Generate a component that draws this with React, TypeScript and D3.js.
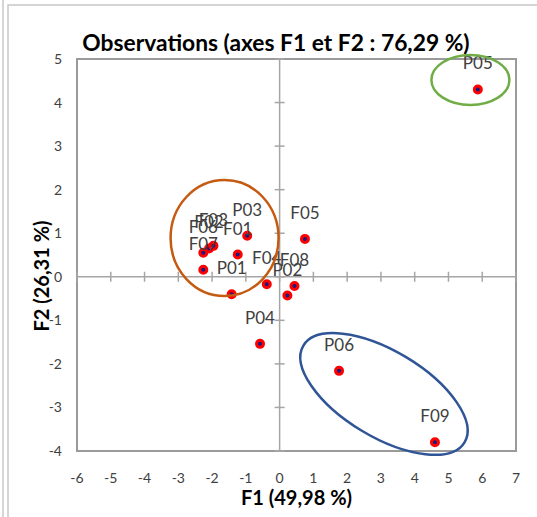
import * as d3 from "d3";

const labels = ["P01", "P02", "P03", "P04", "P05", "P06", "F01", "F02", "F03", "F04", "F05", "F06", "F07", "F08", "F09"];
const f1 = [-1.42, 0.23, -0.96, -0.58, 5.87, 1.76, -1.24, -2.09, -1.96, -0.38, 0.75, -2.26, -2.26, 0.44, 4.6];
const f2 = [-0.4, -0.43, 0.94, -1.54, 4.3, -2.16, 0.51, 0.65, 0.71, -0.17, 0.87, 0.55, 0.16, -0.21, -3.8];

const xTicks = d3.range(-6, 8);
const yTicks = d3.range(-4, 6);

// hand-drawn group outlines (centre in data units, radii in px)
const groups = [
  { cx: -1.63, cy: 0.89, rx: 54, ry: 58, angle: 0, color: "#C55A11" },
  { cx: 5.65, cy: 4.52, rx: 39, ry: 25, angle: 0, color: "#70AD47" },
  { cx: 3.09, cy: -2.69, rx: 94, ry: 43, angle: 31, color: "#2F5597" },
];

const W = 537;
const H = 517;
const margin = { top: 59, right: 21, bottom: 66, left: 77 };
const font = "Lato, 'Open Sans', sans-serif";

export default function App() {
  const x = d3.scaleLinear().domain([-6, 7]).range([margin.left, W - margin.right]);
  const y = d3.scaleLinear().domain([-4, 5]).range([H - margin.bottom, margin.top]);
  const x0 = x(0);
  const y0 = y(0);

  return (
    <svg width={W} height={H} style={{ position: "absolute", left: 0, top: 0, background: "#fff" }} fontFamily={font}>
      {/* outer frames */}
      <line x1={3} x2={3} y1={0} y2={H} stroke="#c8c8c8" strokeWidth={1.5} />
      <rect x={8} y={5} width={W} height={H} fill="none" stroke="#c8c8c8" strokeWidth={1.5} />

      <text x={276} y={51} textAnchor="middle" fontSize={22.8} fontWeight="bold" fill="#000">
        Observations (axes F1 et F2 : 76,29 %)
      </text>

      {/* plot frame */}
      <rect
        x={x(-6)}
        y={y(5)}
        width={x(7) - x(-6)}
        height={y(-4) - y(5)}
        fill="none"
        stroke="#9a9a9a"
        strokeWidth={2}
      />

      {/* zero axes with crossing ticks */}
      <line x1={x(-6)} x2={x(7)} y1={y0} y2={y0} stroke="#a6a6a6" strokeWidth={1.5} />
      <line x1={x0} x2={x0} y1={y(5)} y2={y(-4)} stroke="#a6a6a6" strokeWidth={1.5} />
      {xTicks.map((t) => (
        <line key={"xt" + t} x1={x(t)} x2={x(t)} y1={y0 - 5} y2={y0 + 5} stroke="#a6a6a6" strokeWidth={1.5} />
      ))}
      {yTicks.map((t) => (
        <line key={"yt" + t} x1={x0 - 5} x2={x0 + 5} y1={y(t)} y2={y(t)} stroke="#a6a6a6" strokeWidth={1.5} />
      ))}

      {/* tick labels */}
      {xTicks.map((t) => (
        <text key={"xl" + t} x={x(t)} y={483} textAnchor="middle" fontSize={14} fill="#404040">
          {t}
        </text>
      ))}
      {yTicks.map((t) => (
        <text key={"yl" + t} x={62} y={y(t) + 5} textAnchor="end" fontSize={14} fill="#404040">
          {t}
        </text>
      ))}

      {/* axis titles */}
      <text x={(x(-6) + x(7)) / 2} y={505} textAnchor="middle" fontSize={20} fontWeight="bold" fill="#000">
        F1 (49,98 %)
      </text>
      <text
        transform={`translate(49,${276}) rotate(-90)`}
        textAnchor="middle"
        fontSize={20}
        fontWeight="bold"
        fill="#000"
      >
        F2 (26,31 %)
      </text>

      {/* points */}
      {labels.map((l, i) => (
        <circle key={"p" + l} cx={x(f1[i])} cy={y(f2[i])} r={3.5} fill="#1a1a80" stroke="#ff0000" strokeWidth={3} />
      ))}
      {labels.map((l, i) => (
        <text key={"l" + l} x={x(f1[i])} y={y(f2[i]) - 20} textAnchor="middle" fontSize={17} fill="#404040">
          {l}
        </text>
      ))}

      {/* group outlines */}
      {groups.map((g, i) => (
        <ellipse
          key={"g" + i}
          transform={`translate(${x(g.cx)},${y(g.cy)}) rotate(${g.angle})`}
          rx={g.rx}
          ry={g.ry}
          fill="none"
          stroke={g.color}
          strokeWidth={2.5}
        />
      ))}
    </svg>
  );
}
